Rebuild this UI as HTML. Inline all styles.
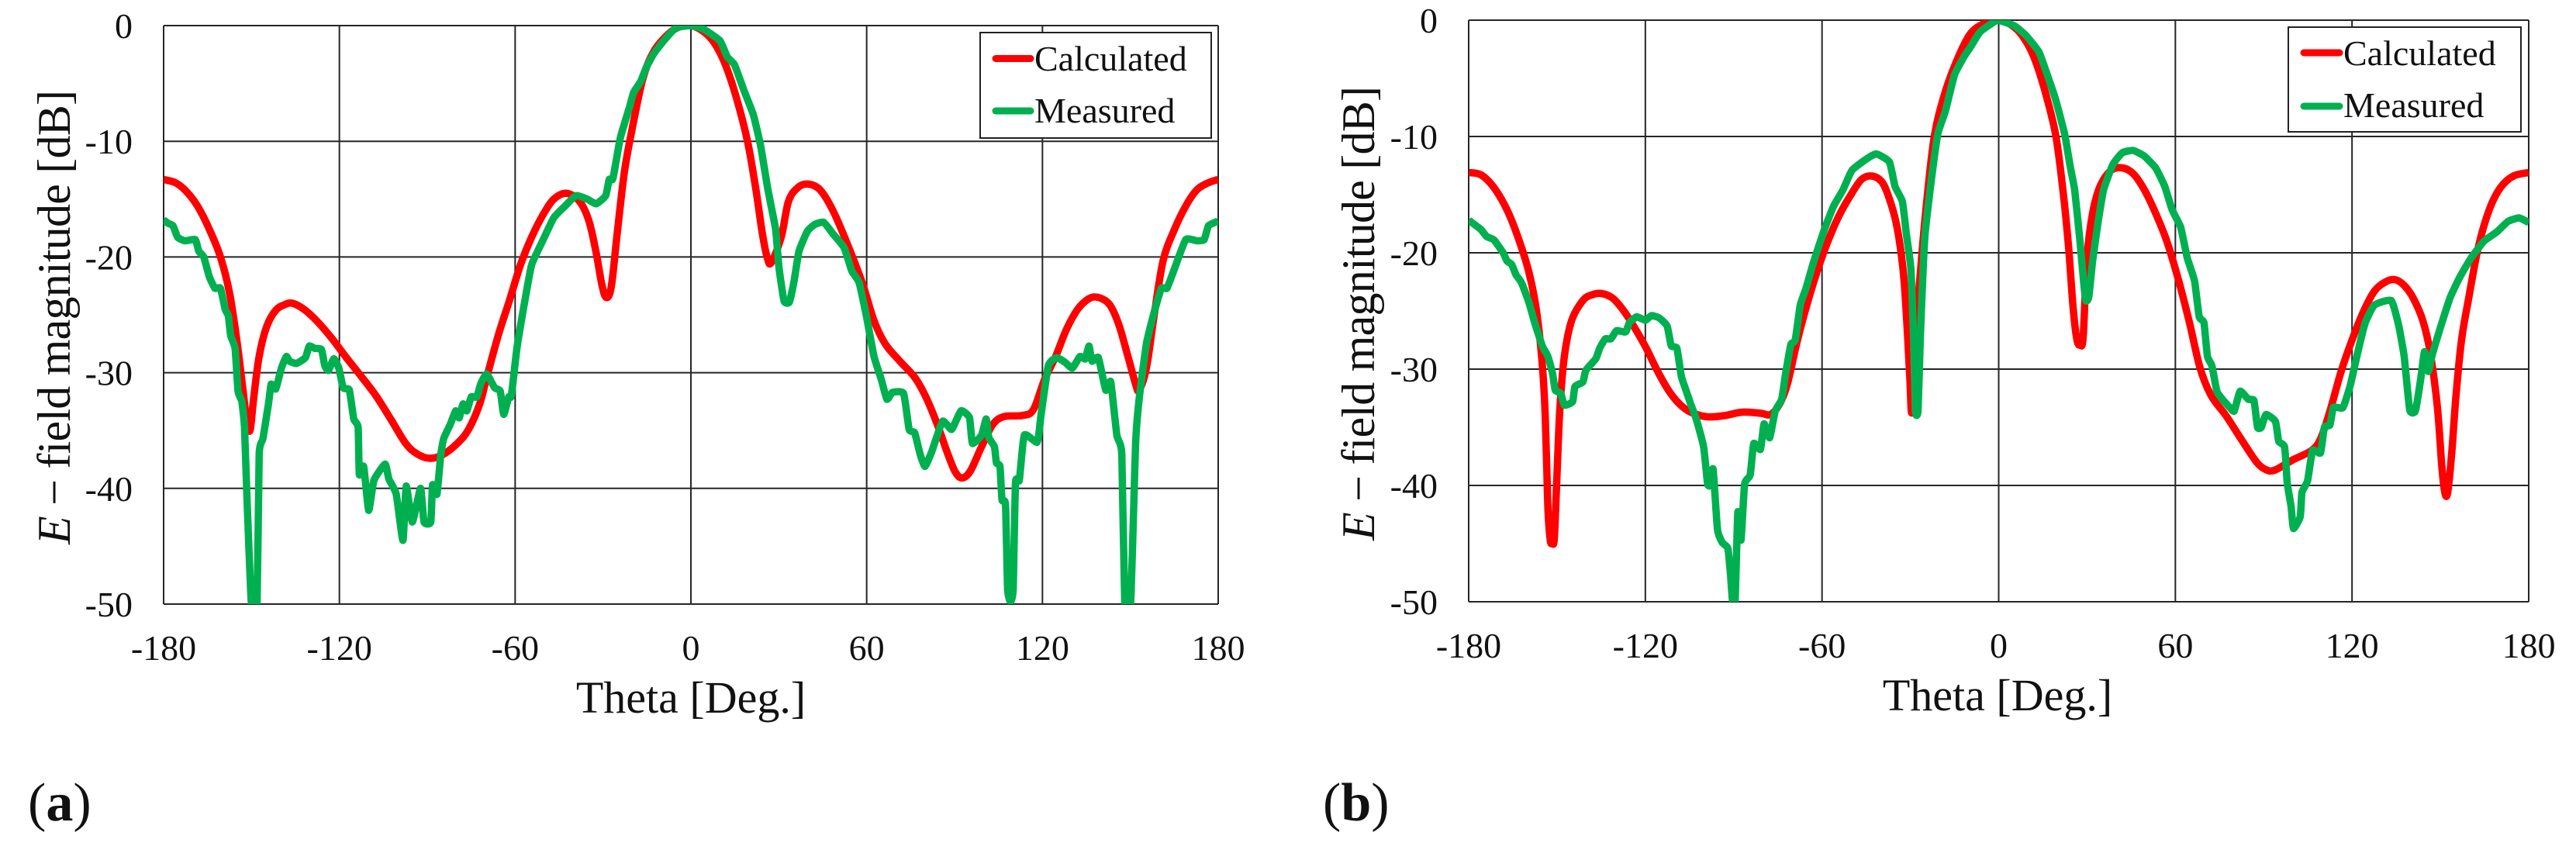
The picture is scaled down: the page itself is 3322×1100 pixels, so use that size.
<!DOCTYPE html>
<html>
<head>
<meta charset="utf-8">
<title>E-field magnitude patterns</title>
<style>
html,body{margin:0;padding:0;background:#fff;}
svg{display:block;}
text{font-family:"Liberation Serif",serif;fill:#111;}
</style>
</head>
<body>
<svg id="figure" xmlns="http://www.w3.org/2000/svg" width="3322" height="1100" viewBox="0 0 3322 1100">
  <rect width="3322" height="1100" fill="#fff"/>
  <defs>
    <clipPath id="clip-a"><rect x="211" y="33" width="1360" height="746"/></clipPath>
    <clipPath id="clip-b"><rect x="1894" y="26" width="1367" height="750"/></clipPath>
  </defs>
  <g id="chart-a"></g>
  <g id="chart-b"></g>

  <text transform="translate(90 702) rotate(-90)" font-size="60" textLength="586" lengthAdjust="spacing"><tspan font-style="italic">E</tspan> − field magnitude [dB]</text>
  <text x="891" y="919" font-size="58" text-anchor="middle">Theta [Deg.]</text>
  <g>
    <rect x="1264" y="42" width="298" height="136" fill="#fff" stroke="#222" stroke-width="2"/>
    <line x1="1284" y1="75.5" x2="1329" y2="75.5" stroke="#ff0000" stroke-width="9" stroke-linecap="round"/>
    <text x="1334" y="91" font-size="46">Calculated</text>
    <line x1="1284" y1="143" x2="1329" y2="143" stroke="#00b050" stroke-width="9" stroke-linecap="round"/>
    <text x="1334" y="158" font-size="46">Measured</text>
  </g>
  <text x="36" y="1058" font-size="70">(<tspan font-weight="bold">a</tspan>)</text>

  <text transform="translate(1772 697) rotate(-90)" font-size="60" textLength="586" lengthAdjust="spacing"><tspan font-style="italic">E</tspan> − field magnitude [dB]</text>
  <text x="2576" y="916" font-size="58" text-anchor="middle">Theta [Deg.]</text>
  <g>
    <rect x="2951" y="35" width="300" height="135" fill="#fff" stroke="#222" stroke-width="2"/>
    <line x1="2971" y1="68" x2="3017" y2="68" stroke="#ff0000" stroke-width="9" stroke-linecap="round"/>
    <text x="3022" y="84" font-size="46">Calculated</text>
    <line x1="2971" y1="137" x2="3017" y2="137" stroke="#00b050" stroke-width="9" stroke-linecap="round"/>
    <text x="3022" y="151" font-size="46">Measured</text>
  </g>
  <text x="1706" y="1058" font-size="70">(<tspan font-weight="bold">b</tspan>)</text>
</svg>
<script>
const xTicks = [-180,-120,-60,0,60,120,180];
const yTicks = [0,-10,-20,-30,-40,-50];

const thetaCalcA = [-180,-175.8,-172,-168.2,-164.4,-160.6,-157.5,-155,-153,-151.7,-150.5,-149.3,-147.4,-144.8,-141.7,-138.5,-136,-132.2,-127.8,-122.7,-117.6,-112.6,-107.5,-102.5,-97.4,-93.6,-89.2,-84.8,-79.7,-75.9,-72.1,-69.6,-65.8,-62,-58.2,-54.4,-50.6,-46.8,-42.4,-38,-34.8,-32.3,-30.4,-28.9,-27.2,-25.3,-22.8,-20.2,-16.4,-12.6,-7.6,-3.8,0,4.2,8,11.8,15.6,19.4,22.2,24.4,26,27.4,30.8,33.3,36.5,40,44.1,48.5,53.6,58.7,62.5,66.3,71.3,76.4,80.2,84,87.8,90.3,92.6,95.4,99.2,103,106.8,113.1,116.9,120.7,124.5,128.3,132.1,135.9,139.1,142.9,146,149.2,151.8,153,155.5,158.1,161.2,165.1,168.9,172.7,176.5,180];
const dbCalcA = [-13.3,-13.6,-14.4,-15.7,-17.6,-20,-23.1,-27.2,-31.3,-34,-35,-32.3,-28.6,-26,-24.6,-24.1,-24,-24.5,-25.5,-27,-28.7,-30.3,-32,-34,-36.1,-37,-37.4,-37.1,-36.1,-34.9,-32.7,-30.3,-26.8,-23.8,-20.7,-18.3,-16.4,-15,-14.5,-15.2,-16.9,-19.7,-22.4,-23.5,-22.6,-18.3,-12.8,-9.1,-4.6,-2.2,-0.7,-0.1,0,-0.5,-1.5,-3.4,-6.3,-10.1,-14.2,-18,-20,-20.5,-18.3,-15.2,-14,-13.7,-14.2,-16,-19,-22.4,-25.5,-27.5,-29,-30.4,-32.1,-34.4,-37.1,-38.6,-39.1,-38.5,-36.4,-34.5,-33.8,-33.7,-33.2,-30.6,-28.6,-26.2,-24.5,-23.6,-23.5,-24.1,-25.8,-28.6,-31,-31.5,-29.6,-25.1,-20.3,-17.6,-15.6,-14.2,-13.6,-13.3];

const thetaMeasA = [-180,-178.4,-176.8,-175.2,-172.7,-169.2,-168,-166.3,-164.4,-162.5,-160.6,-159,-157.9,-157.1,-155.6,-154.6,-153.3,-152.4,-151.5,-150.8,-150,-148.1,-147.4,-146.1,-144.2,-143.3,-141.7,-139.8,-138.1,-137,-134.7,-131.6,-130.3,-128.4,-126.1,-125,-123.7,-121.9,-120.2,-118.7,-116.6,-115.1,-113.6,-113.2,-111.7,-110,-108.2,-104.4,-103.1,-100.6,-98.3,-97.2,-95.1,-92.3,-91.1,-88.8,-88.2,-86.7,-85.4,-84.4,-82.2,-80.3,-79.1,-77.8,-76.5,-75,-73.1,-71.8,-69.8,-67,-65.1,-63.9,-62.2,-61.3,-59.4,-56.9,-54.4,-50.6,-46.8,-43,-39.2,-35.4,-32.3,-29.1,-27.9,-26.6,-24.1,-20.9,-19.6,-17.1,-15.2,-12.6,-8.9,-5.1,0,4.2,9.9,12.4,14.9,18.1,21.3,23.8,26.3,28.9,30.1,31.8,33.6,35.2,36.9,39.7,42.2,45.3,48.5,52.3,54.9,57.4,59.9,62.5,65,66.9,68.8,72.6,74.5,76.4,78.3,79.9,82.1,85.9,89,92.2,95.1,96.1,99.2,100.8,101.7,103.6,104.3,105.5,106.2,107.4,108.1,109.1,110,110.8,112.1,113.8,118.2,119.5,122,124.8,127.7,130.2,132.8,134.6,135.9,136.9,139.1,141.6,143.3,145.4,147.1,148.1,150.1,151.8,153,155.5,158.1,160.6,162.5,165.1,168.9,172.7,175.2,176.7,180];
const dbMeasA = [-16.8,-17.1,-17.3,-18.3,-18.6,-18.5,-19.5,-20,-21.7,-22.7,-22.7,-24.5,-25.1,-26.8,-27.9,-31.6,-32.5,-34.7,-41.2,-45.7,-50,-50,-37.1,-35.7,-32.7,-31,-31.4,-29.6,-28.6,-29,-29.2,-28.7,-27.7,-27.9,-28,-29.4,-29.8,-28.8,-29.6,-31.3,-31.5,-34,-34.7,-38.8,-38.1,-41.9,-39.3,-37.9,-39.2,-40.5,-44.5,-39.8,-42.9,-40,-42.9,-42.9,-39.7,-40.5,-37.1,-35.7,-34.5,-33.3,-33.9,-32.7,-33.3,-32.1,-32.1,-31,-30.1,-31.3,-31.6,-33.6,-32.1,-32,-27.9,-24.1,-20.7,-18.6,-16.6,-15.6,-14.7,-15,-15.4,-14.7,-13.3,-13.2,-9.7,-7,-5.8,-4.8,-3.6,-2.4,-1.2,-0.2,0,-0.3,-1.3,-2.7,-3.4,-5.6,-7.7,-10.4,-14.2,-17.6,-21,-23.8,-23.9,-22.1,-19.5,-17.8,-17.2,-17,-18,-19.2,-21.2,-22.2,-25.1,-28.6,-30.6,-32.3,-31.7,-31.8,-34.9,-35.2,-37.1,-38.1,-36.9,-34.2,-34.9,-33.3,-33.9,-36.1,-35.4,-34,-35.6,-36.4,-37.8,-38.1,-41,-41.4,-48.7,-49.8,-48.7,-39.5,-39.3,-35.4,-36,-33.7,-29.4,-28.7,-29.1,-29.6,-28.6,-28.8,-27.7,-29,-28.7,-31.5,-30.8,-35.4,-37.1,-50,-50,-36.1,-32.3,-27.5,-24.8,-22.7,-22.7,-21,-18.5,-18.6,-18.5,-17.3,-16.9];

const thetaCalcB = [-180,-175.8,-171.4,-167,-163.2,-159.5,-156.9,-155,-154,-153.1,-152.3,-151.6,-150.9,-150,-149,-147.5,-145,-141.2,-138,-134.9,-131.1,-127.3,-123.5,-119.7,-116,-112.2,-108.4,-104.6,-99,-93.3,-87,-80.7,-77.5,-74.4,-71.8,-68.7,-65.5,-61.8,-58,-54.2,-50.4,-46.6,-43.1,-39.7,-37.2,-34.6,-32.5,-31.3,-30.2,-29.4,-27.7,-26.5,-24.6,-22,-18.9,-15.1,-10,-5,0,4.2,7.9,11.7,15.5,19.3,21.8,23.7,25.3,26.6,27.7,28.7,30,31.9,34.4,38.2,42,45.7,49.5,53.3,57.1,60.8,64.6,68.4,72.2,77.2,82.3,87.3,90.4,93.6,99.9,106.2,109.3,112.5,116.3,120,123.8,127.6,131.4,134.5,137.7,140.8,144,146.5,149,150.5,151.5,152.5,153.8,155.3,157.2,159.7,162.9,166.6,170.4,174.8,180];
const dbCalcB = [-13.1,-13.3,-14.4,-16.3,-18.7,-21.7,-25.1,-29.6,-34,-41.8,-44.7,-44.9,-44.5,-39.1,-33.3,-28.9,-25.8,-24.1,-23.6,-23.5,-23.9,-25,-26.5,-28.2,-30.1,-31.8,-33,-33.7,-34.1,-34,-33.7,-33.8,-33.9,-33,-31.3,-27.9,-24.8,-21.7,-19,-16.8,-15.1,-13.7,-13.4,-13.9,-15.3,-17.7,-21.4,-25.5,-30.6,-33.6,-25.5,-21.4,-16,-10.2,-6.8,-4,-1.3,-0.3,0,-0.4,-1.3,-3,-5.9,-9.8,-14.6,-19.4,-24.8,-27.5,-27.9,-27.2,-20.4,-16.6,-14.3,-12.9,-12.7,-13.2,-14.6,-16.6,-19,-22.1,-25.8,-29.9,-32.3,-34,-36,-37.9,-38.6,-38.7,-37.8,-37,-36,-33.6,-30.2,-27.5,-25.1,-23.3,-22.5,-22.3,-22.8,-23.9,-25.8,-28.5,-33.3,-38.4,-40.6,-40.6,-37.4,-32.3,-27.5,-23.8,-19.5,-16.3,-14.4,-13.4,-13.1];

const thetaMeasB = [-180,-178.4,-175.8,-173.9,-171.4,-168.3,-167,-165.4,-163.9,-162,-159.5,-157.6,-155,-153.1,-151.5,-150.6,-148.7,-147.5,-144.7,-143.9,-141.2,-140.2,-136.8,-135.5,-133.6,-131.7,-129.8,-126.7,-125.4,-122.9,-120,-117.9,-115.3,-112.6,-111.2,-109.3,-107.8,-106.5,-104.6,-102.7,-100.2,-98.9,-98.1,-97,-95.5,-93.9,-92,-91.1,-90.4,-89.5,-88.6,-87.5,-86.3,-84.4,-83.2,-80.9,-79.7,-77.8,-75.9,-73.7,-72.5,-70.6,-69.1,-67.4,-65.5,-63,-59.2,-56.1,-52.9,-49.8,-44.7,-41.5,-37.1,-35.2,-32.7,-31.4,-29.8,-28.9,-28.3,-27.4,-26.6,-25.1,-22.6,-20.7,-18.1,-15,-11.9,-9.3,-6.3,-1.3,0,5.4,9.2,13.6,16.1,19.3,22.4,24.3,25.8,27.5,28.7,29.6,30.6,31.9,33.8,35.6,38.8,42,45.7,49.5,53.3,56.4,58.9,61.8,64,66.5,68.1,69.7,70.9,72.4,74.1,76,78.5,80,82,84.8,86.7,87.9,89.2,90.8,94,95.1,97.1,98,99.3,100.1,102.4,103,104.9,106.6,109.3,110.6,112.5,113.7,116.9,119.4,122,124.5,127.6,133.3,135.8,137.7,139.6,141.5,143.3,144.6,145.9,147.1,150.3,153.4,156.6,160.3,164.8,169.2,173,176.7,180];
const dbMeasB = [-17.2,-17.5,-18,-18.6,-18.9,-20,-20.7,-21,-21.9,-22.6,-24.3,-26,-28,-28.9,-30.4,-31.8,-32.1,-33.1,-32.8,-31.5,-31.1,-30.1,-29.1,-28.2,-27.4,-27.4,-26.7,-26.8,-26,-25.5,-25.8,-25.4,-25.6,-26.3,-28,-28.2,-30.6,-31.6,-33,-34.3,-36.7,-39.8,-40,-38.6,-43.8,-44.9,-45.4,-47.6,-49.9,-49.9,-42.3,-44.7,-39.9,-39.1,-36.4,-36.9,-34.7,-35.9,-33.6,-32.6,-30.6,-27.9,-27.5,-24.5,-23.1,-20.9,-18,-16,-14.6,-12.9,-11.9,-11.5,-12.2,-14.3,-15.6,-18.3,-21.4,-27.5,-33.6,-33.6,-27.2,-18.7,-13.2,-9.8,-7.8,-4.7,-3.2,-2.2,-1,-0.1,0,-0.5,-1.3,-2.7,-4.4,-6.8,-9.8,-12.6,-14.6,-18.7,-22.1,-24.1,-23.8,-20.7,-17.3,-14.6,-12.4,-11.4,-11.2,-11.7,-12.7,-14.3,-16.3,-17.8,-20.4,-22.4,-25.5,-26,-28.9,-29.7,-31.9,-32.6,-33.3,-33.6,-31.9,-32.6,-32.7,-35,-35,-33.9,-34.5,-36.2,-36.7,-39.8,-41.8,-43.7,-42.7,-40.6,-39.6,-37,-37.2,-35,-34.8,-33.3,-33.3,-31.4,-28.5,-26,-24.5,-24.1,-26.2,-28.9,-33.5,-33.6,-30.9,-28.5,-30.2,-28.9,-26.2,-23.8,-22.1,-20.5,-19,-18.2,-17.3,-17,-17.4];

const SVGNS = 'http://www.w3.org/2000/svg';

function makeAxes(left, right, top, bottom) {
  return {
    x: function (theta) { return left + (theta + 180) / 360 * (right - left); },
    y: function (db) { return top + (0 - db) / 50 * (bottom - top); },
    left: left, right: right, top: top, bottom: bottom
  };
}

function drawGrid(group, axes, suffix, labelRight, xBaseline) {
  xTicks.forEach(function (tick) {
    const line = document.createElementNS(SVGNS, 'line');
    
    
    line.setAttribute('x1', axes.x(tick));
    line.setAttribute('x2', axes.x(tick));
    line.setAttribute('y1', axes.top);
    line.setAttribute('y2', axes.bottom);
    line.setAttribute('stroke', '#262626');
    line.setAttribute('stroke-width', '2');
    group.appendChild(line);
    const label = document.createElementNS(SVGNS, 'text');
    
    
    label.setAttribute('x', axes.x(tick));
    label.setAttribute('y', xBaseline);
    label.setAttribute('font-size', '46');
    label.setAttribute('text-anchor', 'middle');
    label.textContent = String(tick);
    group.appendChild(label);
  });
  yTicks.forEach(function (tick) {
    const line = document.createElementNS(SVGNS, 'line');
    
    
    line.setAttribute('x1', axes.left);
    line.setAttribute('x2', axes.right);
    line.setAttribute('y1', axes.y(tick));
    line.setAttribute('y2', axes.y(tick));
    line.setAttribute('stroke', '#262626');
    line.setAttribute('stroke-width', '2');
    group.appendChild(line);
    const label = document.createElementNS(SVGNS, 'text');
    
    
    label.setAttribute('x', labelRight);
    label.setAttribute('y', axes.y(tick) + 16);
    label.setAttribute('font-size', '46');
    label.setAttribute('text-anchor', 'end');
    label.textContent = String(tick);
    group.appendChild(label);
  });
}

function drawSeries(group, axes, thetas, values, color, name, clipId, smoothing) {
  const px = thetas.map(function (t) { return axes.x(t); });
  const py = values.map(function (v) { return axes.y(v); });
  let d = 'M' + px[0].toFixed(1) + ' ' + py[0].toFixed(1);
  for (let i = 0; i < px.length - 1; i++) {
    const a = Math.max(i - 1, 0);
    const b = Math.min(i + 2, px.length - 1);
    const c1x = px[i] + (px[i + 1] - px[a]) * smoothing;
    const c1y = py[i] + (py[i + 1] - py[a]) * smoothing;
    const c2x = px[i + 1] - (px[b] - px[i]) * smoothing;
    const c2y = py[i + 1] - (py[b] - py[i]) * smoothing;
    d += ' C' + c1x.toFixed(1) + ' ' + c1y.toFixed(1) + ' ' + c2x.toFixed(1) + ' ' + c2y.toFixed(1) + ' ' + px[i + 1].toFixed(1) + ' ' + py[i + 1].toFixed(1);
  }
  const line = document.createElementNS(SVGNS, 'path');
  
  
  line.setAttribute('d', d);
  line.setAttribute('fill', 'none');
  line.setAttribute('stroke', color);
  line.setAttribute('stroke-width', '9.5');
  line.setAttribute('stroke-linejoin', 'round');
  line.setAttribute('stroke-linecap', 'butt');
  line.setAttribute('clip-path', 'url(#' + clipId + ')');
  group.appendChild(line);
}

const axesA = makeAxes(211, 1571, 33, 779);
const axesB = makeAxes(1894, 3261, 26, 776);
const groupA = document.getElementById('chart-a');
const groupB = document.getElementById('chart-b');

drawGrid(groupA, axesA, 'a', 171, 851);
drawSeries(groupA, axesA, thetaCalcA, dbCalcA, '#ff0000', 'calculated-line-a', 'clip-a', 0.166);
drawSeries(groupA, axesA, thetaMeasA, dbMeasA, '#00b050', 'measured-line-a', 'clip-a', 0.08);

drawGrid(groupB, axesB, 'b', 1854, 848);
drawSeries(groupB, axesB, thetaCalcB, dbCalcB, '#ff0000', 'calculated-line-b', 'clip-b', 0.166);
drawSeries(groupB, axesB, thetaMeasB, dbMeasB, '#00b050', 'measured-line-b', 'clip-b', 0.08);
</script>
</body>
</html>
